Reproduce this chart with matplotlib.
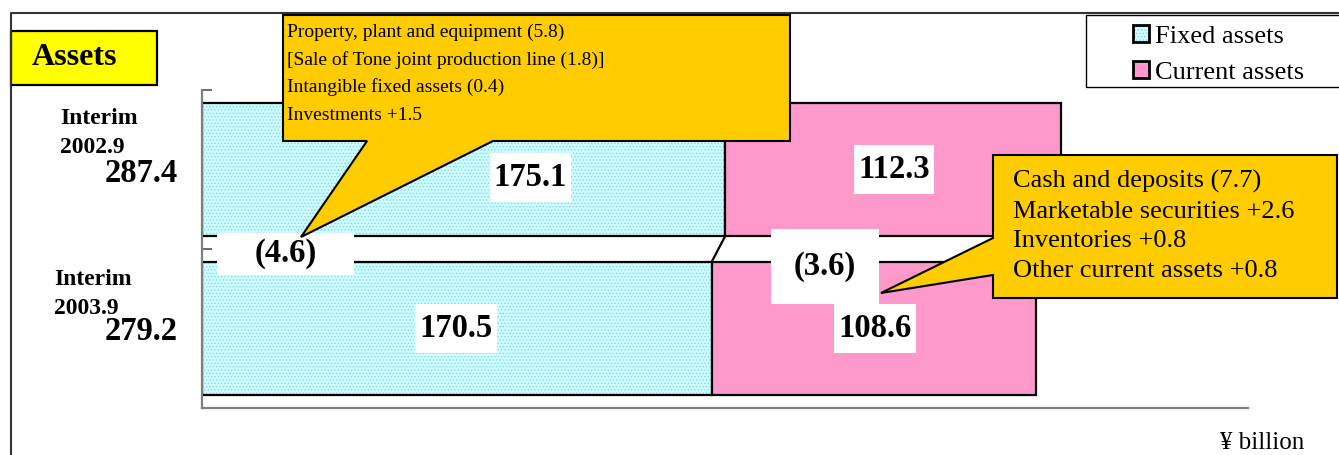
import matplotlib
matplotlib.use("Agg")
import matplotlib.pyplot as plt
from matplotlib.patches import Rectangle, Polygon, Patch
from matplotlib.lines import Line2D
from matplotlib.path import Path
from matplotlib.transforms import Affine2D

# ---- data ----
periods = ["Interim\n2002.9", "Interim\n2003.9"]
fixed_assets = [175.1, 170.5]
current_assets = [112.3, 108.6]
totals = [287.4, 279.2]
changes = [-4.6, -3.6]          # change in fixed / current assets
series_names = ["Fixed assets", "Current assets"]
fixed_notes = [
    "Property, plant and equipment (5.8)",
    "[Sale of Tone joint production line (1.8)]",
    "Intangible fixed assets (0.4)",
    "Investments +1.5",
]
current_notes = [
    "Cash and deposits (7.7)",
    "Marketable securities +2.6",
    "Inventories +0.8",
    "Other current assets +0.8",
]
title = "Assets"
unit = "\u00a5 billion"

# ---- style ----
plt.rcParams["font.family"] = ["Liberation Serif", "DejaVu Serif"]
plt.rcParams["hatch.linewidth"] = 0.6
CYAN = "#CCFFFF"
DOTS = "#8FCFEF"
PINK = "#FF99CC"
ORANGE = "#FFCC00"
YELLOW = "#FFFF00"

W, H = 1339, 455
fig = plt.figure(figsize=(W / 100, H / 100), dpi=100)
# pixel coordinates measured from the top-left corner of the figure
px = Affine2D().scale(1 / W, -1 / H).translate(0, 1) + fig.transFigure


def pad_box(padx, pady):
    """Rectangular text background with separate horizontal/vertical padding."""
    def style(x0, y0, width, height, mutation_size):
        dx, dy = padx * mutation_size, pady * mutation_size
        x1, y1 = x0 + width + dx, y0 + height + dy
        x0, y0 = x0 - dx, y0 - dy
        return Path([(x0, y0), (x1, y0), (x1, y1), (x0, y1), (x0, y0)], closed=True)
    return style


# outer frame
fig.add_artist(Line2D([11, 11, W], [H, 13, 13], transform=px, color="#333333", lw=1.5))

# ---- axes ----
ax = fig.add_axes([202 / W, 1 - 408 / H, (1248 - 202) / W, (408 - 90) / H])
ax.set_xlim(0, 350)
ax.set_ylim(-0.5, 1.5)
ypos = [1, 0]
bar_h = 0.835

ax.barh(ypos, fixed_assets, height=bar_h, color=CYAN, hatch=".....",
        edgecolor=DOTS, linewidth=0, zorder=2)
ax.barh(ypos, fixed_assets, height=bar_h, fill=False, edgecolor="black",
        linewidth=1.6, zorder=2.1)
ax.barh(ypos, current_assets, left=fixed_assets, height=bar_h, color=PINK,
        edgecolor="black", linewidth=1.6, zorder=2.1)

# connector between the fixed/current boundaries of the two bars
ax.plot([fixed_assets[0], fixed_assets[1]],
        [ypos[0] - bar_h / 2, ypos[1] + bar_h / 2],
        color="black", lw=1.6, zorder=2.2)

for s in ("top", "right"):
    ax.spines[s].set_visible(False)
for s in ("left", "bottom"):
    ax.spines[s].set_color("#7f7f7f")
    ax.spines[s].set_linewidth(1.6)
ax.set_xticks([])
ax.set_yticks([-0.5, 0.5, 1.5])
ax.set_yticklabels([])
ax.tick_params(axis="y", direction="in", length=7.5, width=1.2, color="#555555")
ax.patch.set_alpha(0)

# value labels inside the bars
LABEL_SIZE = 23.5
label_font = dict(fontsize=LABEL_SIZE, fontweight="bold", ha="center",
                  va="center", zorder=3)
wbox = dict(boxstyle=pad_box(0.12, 0.28), fc="white", ec="none")
fixed_label_x = [109.9, 85.0]
current_label_x = [231.5, 225.2]
fixed_label_y = [0.95, 0.0]
current_label_y = [1.0, 0.0]
for i in range(2):
    ax.text(fixed_label_x[i], fixed_label_y[i], f"{fixed_assets[i]:.1f}",
            bbox=wbox, **label_font)
    ax.text(current_label_x[i], current_label_y[i],
            f"{current_assets[i]:.1f}", bbox=wbox, **label_font)

# change labels in the gap between the bars
ax.text(28.0, 0.47, f"({abs(changes[0]):.1f})",
        bbox=dict(boxstyle=pad_box(1.15, 0.17), fc="white", ec="none"),
        **label_font)
ax.text(208.5, 0.39, f"({abs(changes[1]):.1f})",
        bbox=dict(boxstyle=pad_box(0.7, 0.66), fc="white", ec="none"),
        **label_font)

# ---- period labels and totals ----
period_x = [60, 54]
period_base = [124, 285]
total_base = [182, 340]
for i in range(2):
    first, second = periods[i].split("\n")
    fig.text(period_x[i], period_base[i], first, transform=px, fontsize=17,
             fontweight="bold", va="baseline")
    fig.text(period_x[i], period_base[i] + 29, second, transform=px,
             fontsize=17, fontweight="bold", va="baseline")
    fig.text(178, total_base[i], f"{totals[i]:.1f}", transform=px,
             fontsize=23.5, fontweight="bold", ha="right", va="baseline")

# ---- title box ----
fig.add_artist(Rectangle((11, 31), 146, 54, transform=px, fc=YELLOW,
                         ec="black", lw=1.6))
fig.text(32, 65, title, transform=px, fontsize=23, fontweight="bold",
         va="baseline")

# ---- callouts ----
callout1 = [(283, 15), (790, 15), (790, 141), (493, 141), (301, 237),
            (367, 141), (283, 141)]
fig.add_artist(Polygon(callout1, closed=True, transform=px, fc=ORANGE,
                       ec="black", lw=1.5, zorder=4))
for k, line in enumerate(fixed_notes):
    fig.text(287, 37 + 27.7 * k, line, transform=px, fontsize=14,
             va="baseline", zorder=5)

callout2 = [(993, 155), (1337, 155), (1337, 298), (993, 298), (993, 275),
            (881, 293), (993, 238)]
fig.add_artist(Polygon(callout2, closed=True, transform=px, fc=ORANGE,
                       ec="black", lw=1.5, zorder=4))
for k, line in enumerate(current_notes):
    fig.text(1013, 188 + 29.7 * k, line, transform=px, fontsize=19,
             va="baseline", zorder=5)

# ---- legend ----
fig.add_artist(Rectangle((1086, 15), 300, 72, transform=px, fc="white",
                         ec="black", lw=1.0))
handles = [
    (Patch(facecolor=CYAN, hatch=".....", edgecolor=DOTS, linewidth=0),
     Patch(fill=False, edgecolor="black", linewidth=2)),
    Patch(facecolor=PINK, edgecolor="black", linewidth=2),
]
leg = fig.legend(handles, series_names, loc="upper left",
                 bbox_to_anchor=(1133, 25), bbox_transform=px,
                 frameon=False, fontsize=19, handlelength=0.6,
                 handleheight=0.6, handletextpad=0.25, labelspacing=0.5,
                 borderpad=0, borderaxespad=0)

# unit
fig.text(1220, 449, unit, transform=px, fontsize=18, va="baseline")

fig.savefig("out.png", dpi=100)
